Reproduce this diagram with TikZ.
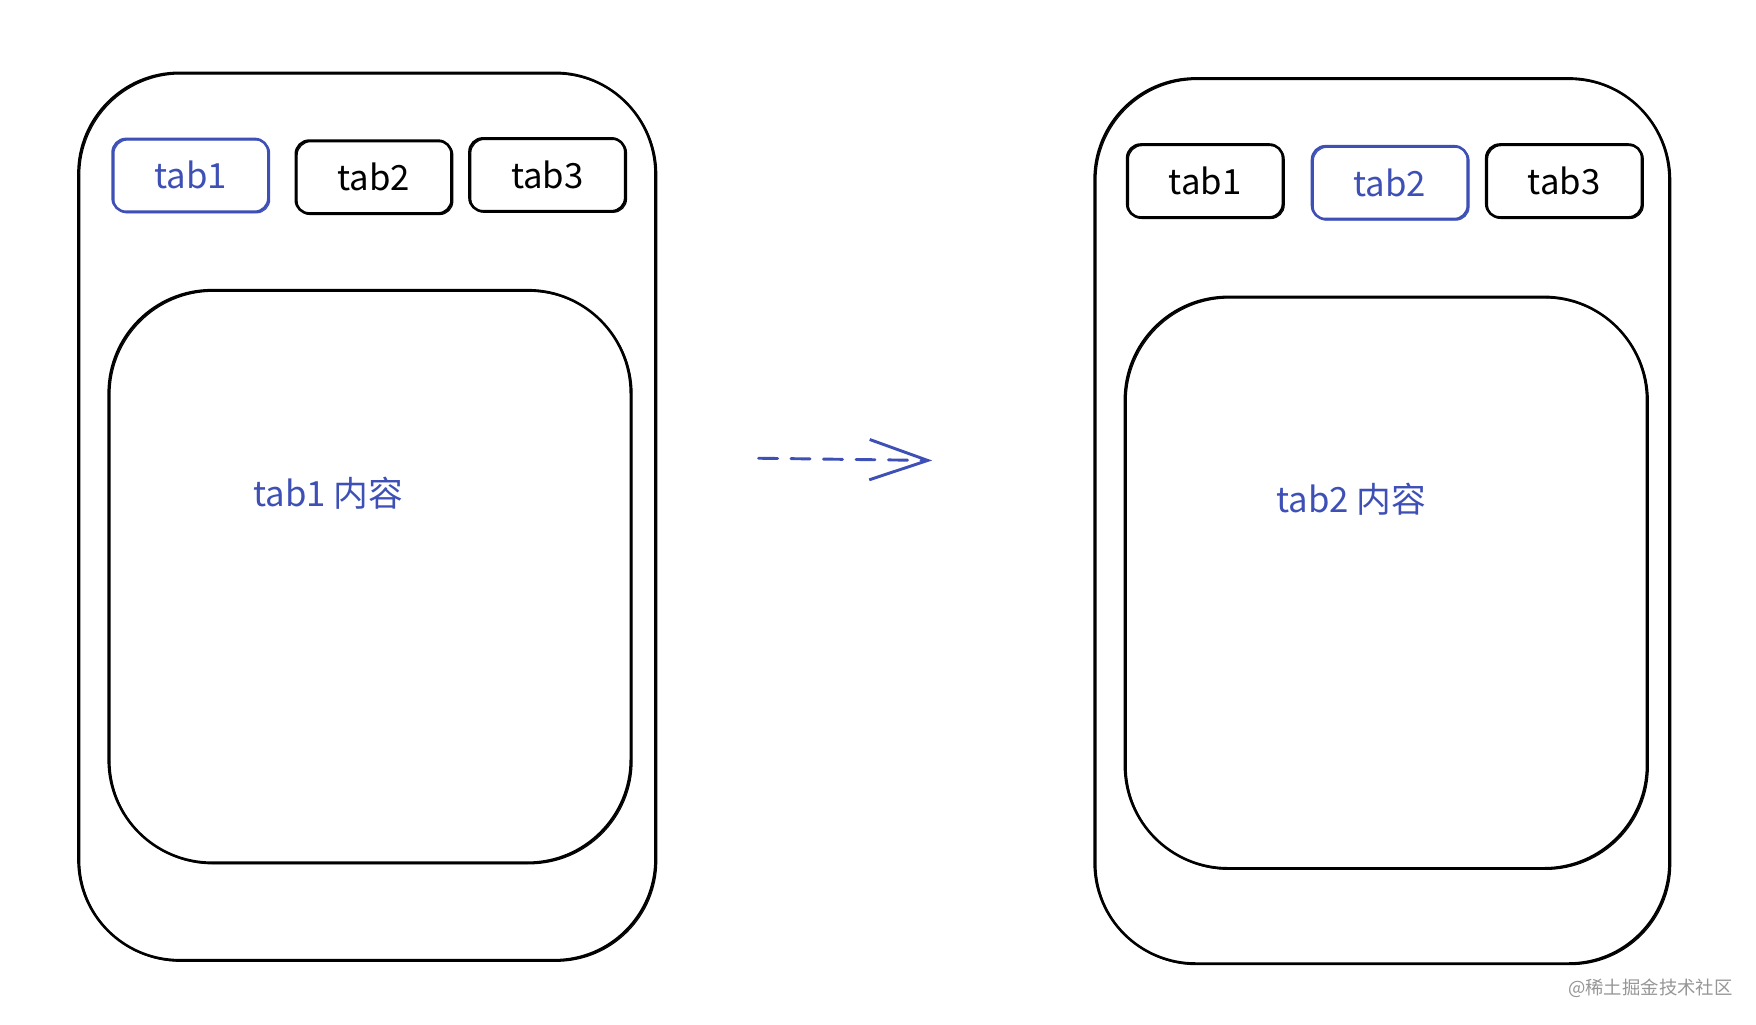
\documentclass[tikz,border=0pt]{standalone}
\usepackage{fontspec}
\setmainfont{Noto Sans CJK SC}
\usetikzlibrary{arrows.meta}
\definecolor{sketchblue}{RGB}{62,80,182}
\definecolor{markgray}{RGB}{150,150,150}
\tikzset{
  sk/.style={draw, line width=1.15pt, line join=round,
    postaction={draw, line width=0.5pt, transform canvas={xshift=0.6pt, yshift=-0.5pt}}},
  phone/.style={sk, rounded corners=45pt, minimum width=#1},
  panel/.style={sk, rounded corners=46pt},
  tabbox/.style={sk, rounded corners=6pt, minimum width=69.5pt, minimum height=32.5pt,
    font=\fontsize{15.5}{17}\selectfont, inner sep=0pt},
  active/.style={draw=sketchblue, text=sketchblue},
  label/.style={text=sketchblue, font=\fontsize{15.5}{18}\selectfont, inner sep=0pt},
}
\begin{document}
\begin{tikzpicture}[x=0.5pt,y=-0.5pt]
\useasboundingbox (0,0) rectangle (1567.3,914.0);
% left phone
\node[phone=257.5pt, minimum height=396pt] (lphone) at (327.5,461) {};
\node[tabbox, active] (ltabA) at (170,156.5) {tab1};
\node[tabbox] (ltabB) at (333.5,158) {tab2};
\node[tabbox] (ltabC) at (488.5,156) {tab3};
\node[panel, minimum width=233pt, minimum height=255.5pt] (lpanel) at (330,514.5) {};
\node[label] (ltext) at (293,440) {tab1 内容};
% right phone
\node[phone=256.5pt, minimum height=395pt] (rphone) at (1233.5,465) {};
\node[tabbox] (rtabA) at (1075.5,161.5) {tab1};
\node[tabbox, active] (rtabB) at (1240.5,163) {tab2};
\node[tabbox] (rtabC) at (1396,161.5) {tab3};
\node[panel, minimum width=233pt, minimum height=255pt] (rpanel) at (1237,520) {};
\node[label] (rtext) at (1206,446) {tab2 内容};
% arrow
\coordinate (as) at (677,409);
\coordinate (ae) at (832,411);
\draw[sketchblue, line width=1.3pt, line cap=round, dash pattern=on 8.5pt off 6pt,
  -{Straight Barb[length=26pt, width=18pt, line width=1.3pt]}] (as) -- (ae);
% watermark
\node[text=markgray, font=\fontsize{8.2}{10}\selectfont, inner sep=0pt] (wm) at (1473,882) {@稀土掘金技术社区};
\end{tikzpicture}
\end{document}
